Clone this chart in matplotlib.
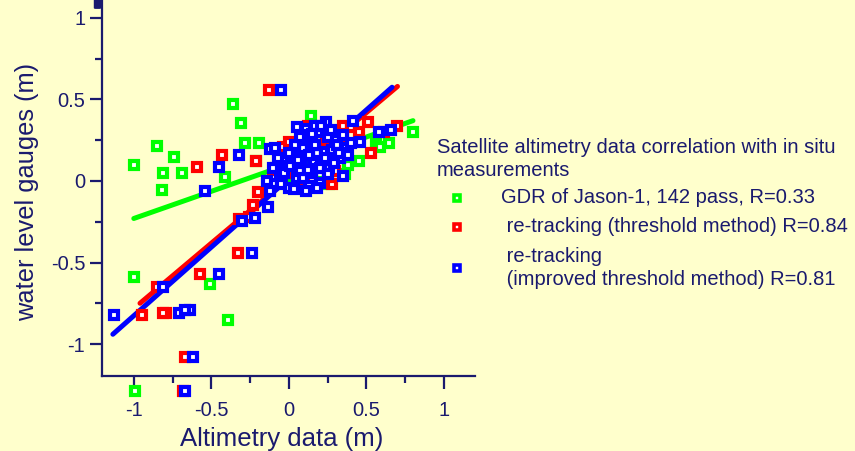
import matplotlib.pyplot as plt
from matplotlib.lines import Line2D
from matplotlib.patches import FancyBboxPatch

plt.rcParams['font.family'] = ['Liberation Sans', 'DejaVu Sans']

# GDR of Jason-1 (green)
green_x = [-1.0, -0.85, -0.74, -0.81, -0.69, -0.82, -0.36, -0.31, -0.28, -0.19, -0.41,
           -0.21, -1.0, -0.51, -0.39, -0.99, 0.14, 0.80, 0.645, 0.56, 0.45, 0.36, 0.03,
           -0.05, 0.02, 0.08, 0.12, 0.18, 0.22, 0.27, 0.06, 0.10, 0.16, 0.24,
           -0.08, 0.20, 0.28, 0.38, 0.10, 0.26, 0.59]
green_y = [0.10, 0.215, 0.147, 0.049, 0.049, -0.055, 0.47, 0.355, 0.235, 0.235, 0.025,
           0.125, -0.59, -0.63, -0.85, -1.29, 0.40, 0.30, 0.235, 0.235, 0.12, 0.04, -0.01,
           0.14, 0.21, 0.27, 0.18, 0.30, 0.12, 0.22, 0.05, -0.03, 0.10, 0.16,
           0.05, 0.04, 0.18, 0.10, 0.23, -0.02, 0.21]

# re-tracking, threshold method (red)
red_x = [-0.13, -0.43, -0.59, -0.21, -0.04, 0.70, 0.51, 0.53, 0.12, 0.35, -0.23,
         -0.32, -0.26, -0.33, -0.57, -0.85, -0.95, -0.79, -0.81, -0.67, -0.68,
         -0.10, -0.06, 0.0, 0.04, 0.08, 0.13, 0.17, 0.21, 0.25, 0.30, 0.35, 0.40,
         -0.12, -0.02, 0.06, 0.10, 0.15, 0.19, 0.24, 0.28, 0.03, 0.45, 0.61, -0.20,
         0.25, 0.35]
red_y = [0.56, 0.16, 0.085, 0.12, 0.21, 0.34, 0.36, 0.17, 0.34, 0.34, -0.147,
         -0.235, -0.22, -0.44, -0.57, -0.65, -0.82, -0.81, -0.81, -1.08, -1.29,
         0.02, 0.15, 0.24, 0.10, 0.28, 0.05, 0.22, 0.31, 0.12, 0.06, 0.27, 0.33,
         -0.05, 0.05, -0.03, 0.18, 0.02, 0.09, 0.25, -0.02, 0.17, 0.30, 0.30, -0.07,
         0.025, 0.18]

# re-tracking, improved threshold method (blue)
blue_x = [-0.05, -0.32, -0.45, -0.54, -0.12, 0.66, 0.58, 0.41, 0.46, 0.35, -0.135,
          -0.30, -0.22, -0.24, -0.45, -0.81, -1.13, -0.71, -0.64, -0.67, -0.62, -0.67,
          -0.10, -0.06, -0.02, 0.02, 0.05, 0.09, 0.12, 0.16, 0.19, 0.22, 0.26, 0.30,
          0.33, 0.37, -0.08, 0.0, 0.04, 0.08, 0.11, 0.15, 0.18, 0.21, 0.25, 0.28,
          -0.04, 0.07, 0.14, 0.20, 0.26, 0.10, 0.17, 0.24, 0.31, 0.13,
          -0.14, -0.12, -0.10, -0.07, -0.05, -0.03, 0.0, 0.01, 0.03, 0.06,
          0.07, 0.09, 0.12, 0.13, 0.15, 0.17, 0.20, 0.21, 0.23, 0.27,
          0.29, 0.32, 0.35, 0.38, 0.40, 0.18, 0.11, 0.25, -0.09, 0.05]
blue_y = [0.56, 0.16, 0.085, -0.06, 0.195, 0.31, 0.30, 0.37, 0.24, 0.03, -0.16,
          -0.245, -0.23, -0.44, -0.57, -0.65, -0.82, -0.81, -0.79, -0.79, -1.08, -1.29,
          -0.02, 0.04, 0.10, 0.15, 0.02, 0.20, 0.26, 0.12, 0.30, 0.18, 0.08, 0.25,
          0.14, 0.20, 0.08, -0.04, 0.22, 0.12, 0.32, 0.05, 0.17, 0.10, 0.27, 0.19,
          0.14, 0.06, 0.23, -0.01, 0.13, 0.28, 0.34, 0.36, 0.22, -0.03,
          0.0, -0.06, 0.08, 0.14, -0.02, 0.05, 0.17, 0.09, -0.05, 0.13,
          0.27, 0.02, 0.07, 0.16, 0.29, 0.22, 0.08, 0.34, 0.14, 0.31,
          0.11, 0.17, 0.28, 0.16, 0.23, -0.04, -0.06, 0.04, 0.20, 0.33]

# regression lines
green_fit_x = [-1.0, 0.80]
green_fit_y = [-0.23, 0.37]
red_fit_x = [-0.96, 0.70]
red_fit_y = [-0.75, 0.58]
blue_fit_x = [-1.135, 0.665]
blue_fit_y = [-0.94, 0.575]

legend_title = 'Satellite altimetry data correlation with in situ\nmeasurements'
legend_labels = ['GDR of Jason-1, 142 pass, R=0.33',
                 ' re-tracking (threshold method) R=0.84',
                 ' re-tracking\n (improved threshold method) R=0.81']

bg = '#ffffcc'
navy = '#1a1a6e'
colors = ['#00ff00', '#ff0000', '#0000ff']

fig = plt.figure(figsize=(8.55, 4.51), dpi=100, facecolor=bg)
ax = fig.add_axes([0.1193, 0.1663, 0.4363, 0.8337])
ax.set_facecolor(bg)

ms = dict(marker='s', linestyle='none', markersize=6.3, markeredgewidth=3.0,
          markerfacecolor='white', clip_on=False, zorder=3)

ax.plot(green_fit_x, green_fit_y, color=colors[0], lw=3.6, solid_capstyle='round', zorder=2)
ax.plot(green_x, green_y, markeredgecolor=colors[0], **ms)
ax.plot(red_fit_x, red_fit_y, color=colors[1], lw=3.6, solid_capstyle='round', zorder=2)
ax.plot(red_x, red_y, markeredgecolor=colors[1], **ms)
ax.plot(blue_fit_x, blue_fit_y, color=colors[2], lw=3.6, solid_capstyle='round', zorder=2)
ax.plot(blue_x, blue_y, markeredgecolor=colors[2], **ms)

ax.set_xlim(-1.205, 1.2)
ax.set_ylim(-1.196, 1.11)
ax.set_xticks([-1, -0.5, 0, 0.5, 1])
ax.set_xticklabels(['-1', '-0.5', '0', '0.5', '1'])
ax.set_xticks([-0.75, -0.25, 0.25, 0.75], minor=True)
ax.set_yticks([-1, -0.5, 0, 0.5, 1])
ax.set_yticklabels(['-1', '-0.5', '0', '0.5', '1'])
ax.set_yticks([-0.75, -0.25, 0.25, 0.75], minor=True)

for s in ['top', 'right']:
    ax.spines[s].set_visible(False)
for s in ['left', 'bottom']:
    ax.spines[s].set_color(navy)
    ax.spines[s].set_linewidth(1.6)
ax.tick_params(which='major', length=9, width=1.6, color=navy, labelcolor=navy,
               labelsize=14.5, direction='out', pad=3)
ax.tick_params(which='minor', length=5, width=1.6, color=navy, direction='out')
ax.tick_params(axis='x', which='major', pad=9)

ax.set_xlabel('Altimetry data (m)', fontsize=18.5, color=navy)
ax.set_ylabel('water level gauges (m)', fontsize=18.3, color=navy)
ax.xaxis.set_label_coords(0.481, -0.135)
ax.yaxis.set_label_coords(-0.168, 0.49)

# small dark mark at the top of the y axis
fig.patches.append(FancyBboxPatch((95.5 / 855, 1 - 8 / 451), 4 / 855, 10 / 451,
                                  boxstyle='round,pad=0.002', transform=fig.transFigure,
                                  facecolor=navy, edgecolor='none'))

# legend drawn by hand to keep the original spacing
fig.text(437 / 855, 1 - 138 / 451, legend_title, fontsize=14.5, color=navy,
         va='top', ha='left', linespacing=1.3)
lab_y = [198, 227, 268]
for c, lab, py in zip(colors, legend_labels, lab_y):
    fig.add_artist(Line2D([457 / 855], [1 - py / 451], marker='s', markersize=5,
                          markeredgewidth=2.6, markeredgecolor=c, markerfacecolor='white',
                          transform=fig.transFigure))
    fig.text(501 / 855, 1 - py / 451, lab, fontsize=14.5, color=navy,
             va='center', ha='left', linespacing=1.3)

fig.savefig('out.png', dpi=100, facecolor=bg)
